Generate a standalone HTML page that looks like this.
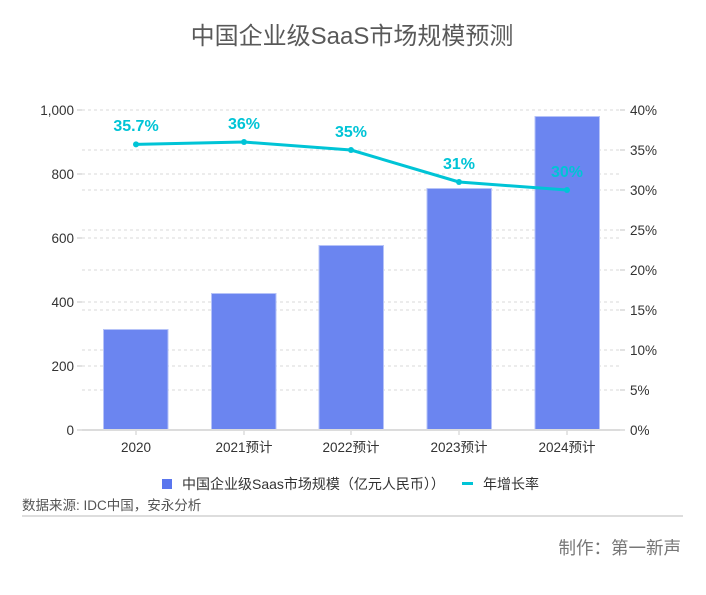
<!DOCTYPE html>
<html>
<head>
<meta charset="utf-8">
<style>
  html,body{margin:0;padding:0;background:#fff;}
  body{width:706px;height:590px;overflow:hidden;}
  svg text{font-family:"Liberation Sans","Noto Sans CJK SC",sans-serif;}
</style>
</head>
<body>
<svg width="706" height="590" viewBox="0 0 706 590" xmlns="http://www.w3.org/2000/svg">
  <rect width="706" height="590" fill="#fff"/>
  <!-- title -->
  <text x="352" y="44" text-anchor="middle" font-size="24" fill="#595959">中国企业级SaaS市场规模预测</text>

  <!-- gridlines -->
  <g stroke="#e6e6e6" stroke-width="1.5" stroke-dasharray="3,3">
    <line x1="82" y1="110" x2="620" y2="110"/>
    <line x1="82" y1="174" x2="620" y2="174"/>
    <line x1="82" y1="238" x2="620" y2="238"/>
    <line x1="82" y1="302" x2="620" y2="302"/>
    <line x1="82" y1="366" x2="620" y2="366"/>
    <line x1="82" y1="150" x2="620" y2="150"/>
    <line x1="82" y1="190" x2="620" y2="190"/>
    <line x1="82" y1="230" x2="620" y2="230"/>
    <line x1="82" y1="270" x2="620" y2="270"/>
    <line x1="82" y1="310" x2="620" y2="310"/>
    <line x1="82" y1="350" x2="620" y2="350"/>
    <line x1="82" y1="390" x2="620" y2="390"/>
  </g>

  <!-- ticks -->
  <g stroke="#d9d9d9" stroke-width="1.5">
    <line x1="77" y1="110" x2="82" y2="110"/>
    <line x1="77" y1="174" x2="82" y2="174"/>
    <line x1="77" y1="238" x2="82" y2="238"/>
    <line x1="77" y1="302" x2="82" y2="302"/>
    <line x1="77" y1="366" x2="82" y2="366"/>
    <line x1="77" y1="430" x2="82" y2="430"/>
    <line x1="620" y1="110" x2="625" y2="110"/>
    <line x1="620" y1="150" x2="625" y2="150"/>
    <line x1="620" y1="190" x2="625" y2="190"/>
    <line x1="620" y1="230" x2="625" y2="230"/>
    <line x1="620" y1="270" x2="625" y2="270"/>
    <line x1="620" y1="310" x2="625" y2="310"/>
    <line x1="620" y1="350" x2="625" y2="350"/>
    <line x1="620" y1="390" x2="625" y2="390"/>
    <line x1="620" y1="430" x2="625" y2="430"/>
  </g>

  <!-- left labels -->
  <g font-size="13.5" fill="#333" text-anchor="end">
    <text x="74" y="115">1,000</text>
    <text x="74" y="179">800</text>
    <text x="74" y="243">600</text>
    <text x="74" y="307">400</text>
    <text x="74" y="371">200</text>
    <text x="74" y="435">0</text>
  </g>
  <!-- right labels -->
  <g font-size="13.5" fill="#333" text-anchor="start">
    <text x="630" y="115">40%</text>
    <text x="630" y="155">35%</text>
    <text x="630" y="195">30%</text>
    <text x="630" y="235">25%</text>
    <text x="630" y="275">20%</text>
    <text x="630" y="315">15%</text>
    <text x="630" y="355">10%</text>
    <text x="630" y="395">5%</text>
    <text x="630" y="435">0%</text>
  </g>

  <!-- bars -->
  <g fill="#6b85f0" stroke="#b6c3f8" stroke-width="1">
    <rect x="103.5" y="329.5" width="64.5" height="100.5"/>
    <rect x="211.5" y="293.5" width="64.5" height="136.5"/>
    <rect x="319" y="245.5" width="64.5" height="184.5"/>
    <rect x="427" y="188.5" width="64.5" height="241.5"/>
    <rect x="535" y="116.5" width="64.5" height="313.5"/>
  </g>

  <!-- x axis -->
  <line x1="82" y1="430" x2="620" y2="430" stroke="#dcdcdc" stroke-width="2"/>
  <g stroke="#dcdcdc" stroke-width="1.5">
    <line x1="136" y1="430" x2="136" y2="435"/>
    <line x1="244" y1="430" x2="244" y2="435"/>
    <line x1="351" y1="430" x2="351" y2="435"/>
    <line x1="459" y1="430" x2="459" y2="435"/>
    <line x1="567" y1="430" x2="567" y2="435"/>
  </g>
  <g font-size="13.5" fill="#333" text-anchor="middle">
    <text x="136" y="452">2020</text>
    <text x="244" y="452">2021预计</text>
    <text x="351" y="452">2022预计</text>
    <text x="459" y="452">2023预计</text>
    <text x="567" y="452">2024预计</text>
  </g>

  <!-- line -->
  <polyline points="136,144.4 244,142 351,150 459,182 567,190" fill="none" stroke="#00c4d6" stroke-width="3" stroke-linejoin="round"/>
  <g fill="#00c4d6">
    <circle cx="136" cy="144.4" r="3"/>
    <circle cx="244" cy="142" r="3"/>
    <circle cx="351" cy="150" r="3"/>
    <circle cx="459" cy="182" r="3"/>
    <circle cx="567" cy="190" r="3"/>
  </g>
  <g font-size="16" font-weight="bold" fill="#00c4d6" text-anchor="middle">
    <text x="136" y="131">35.7%</text>
    <text x="244" y="129">36%</text>
    <text x="351" y="137">35%</text>
    <text x="459" y="169">31%</text>
    <text x="567" y="177">30%</text>
  </g>

  <!-- legend -->
  <rect x="162" y="479" width="10" height="10" fill="#5a76ee"/>
  <text x="182" y="489" font-size="14" fill="#333">中国企业级Saas市场规模（亿元人民币））</text>
  <rect x="462" y="482" width="11" height="3" fill="#00c4d6"/>
  <text x="483" y="489" font-size="14" fill="#333">年增长率</text>

  <!-- source -->
  <text x="22" y="510" font-size="13.5" fill="#555">数据来源: IDC中国，安永分析</text>
  <line x1="22" y1="516" x2="683" y2="516" stroke="#dddddd" stroke-width="2"/>
  <text x="681" y="554" font-size="17.5" fill="#777" text-anchor="end">制作：第一新声</text>
</svg>
</body>
</html>
